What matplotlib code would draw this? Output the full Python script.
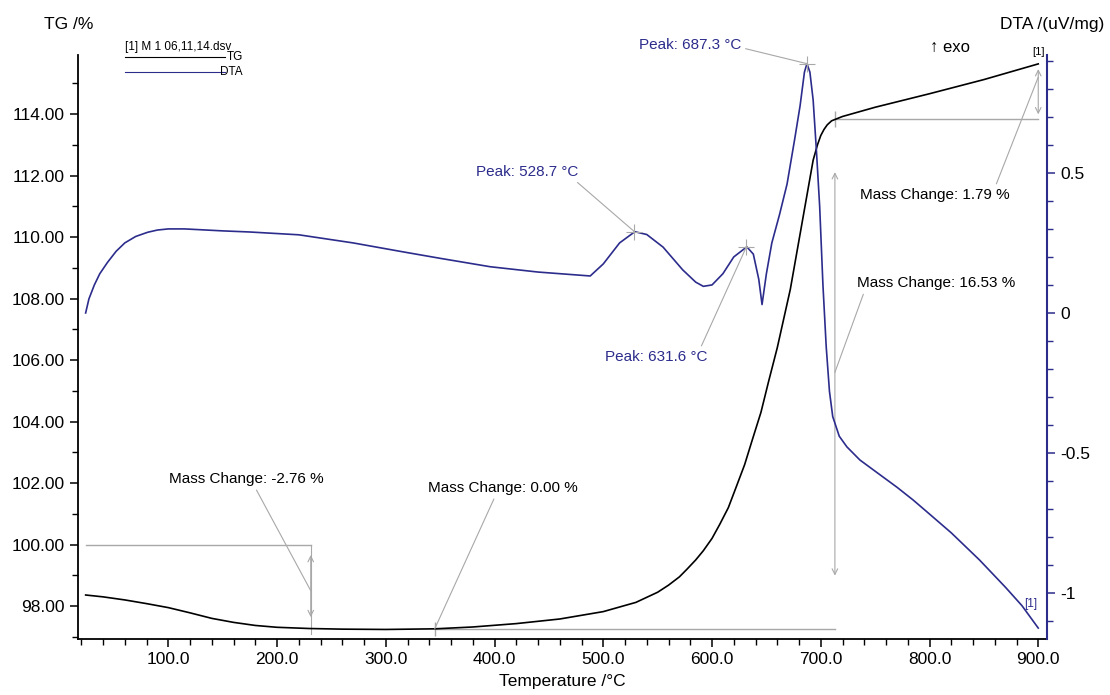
import matplotlib
matplotlib.use("Agg")
import matplotlib.pyplot as plt
from matplotlib.ticker import MultipleLocator, FixedLocator

plt.rcParams["font.family"] = ["Liberation Sans", "DejaVu Sans"]

# TG curve (temperature in degC, mass in %)
tg_temp = [24, 40, 60, 80, 100, 120, 140, 160, 180, 200, 230, 260, 300, 345,
           380, 420, 460, 500, 530, 550, 560, 570, 577, 585, 592, 600, 607,
           615, 622, 630, 637, 645, 652, 660, 666, 672, 677, 682, 686, 690,
           693, 697, 700, 703, 706, 710, 720, 750, 800, 850, 900]
tg_mass = [98.36, 98.30, 98.20, 98.08, 97.95, 97.78, 97.60, 97.47, 97.37, 97.31,
           97.27, 97.25, 97.24, 97.26, 97.32, 97.43, 97.58, 97.82, 98.12, 98.45,
           98.68, 98.95, 99.20, 99.50, 99.80, 100.20, 100.65, 101.20, 101.85,
           102.60, 103.40, 104.30, 105.30, 106.40, 107.35, 108.30, 109.30,
           110.30, 111.10, 111.90, 112.50, 113.00, 113.30, 113.50, 113.65,
           113.78, 113.92, 114.22, 114.66, 115.12, 115.63]

# DTA curve (temperature in degC, signal in uV/mg)
dta_temp = [24, 27, 32, 37, 44, 52, 60, 70, 81, 90, 100, 115, 130, 150, 175,
            220, 270, 316, 350, 396, 440, 488, 500, 515, 529, 540, 555, 573,
            585, 592, 600, 610, 620, 632, 638, 643, 646, 650, 655, 662, 669,
            676, 681, 685, 687.3, 690, 693, 696, 699, 702, 705, 708, 711, 717,
            724, 736, 750, 770, 785, 800, 820, 846, 870, 885, 900]
dta_sig = [0.0, 0.05, 0.10, 0.14, 0.18, 0.22, 0.25, 0.273, 0.288, 0.296, 0.30,
           0.30, 0.297, 0.293, 0.289, 0.279, 0.25, 0.218, 0.195, 0.165, 0.146,
           0.132, 0.175, 0.25, 0.29, 0.28, 0.235, 0.154, 0.11, 0.095, 0.10,
           0.14, 0.20, 0.236, 0.21, 0.12, 0.03, 0.14, 0.25, 0.35, 0.46, 0.62,
           0.74, 0.86, 0.89, 0.86, 0.76, 0.58, 0.38, 0.10, -0.12, -0.28, -0.37,
           -0.44, -0.478, -0.525, -0.565, -0.622, -0.668, -0.718, -0.785,
           -0.882, -0.98, -1.045, -1.125]

# peak evaluations on DTA
peak_temp = [528.7, 631.6, 687.3]
peak_sig = [0.29, 0.236, 0.89]
peak_text = ["Peak: 528.7 °C", "Peak: 631.6 °C", "Peak: 687.3 °C"]

# mass change evaluations on TG
step_temp = [231, 345, 713, 900]
step_text = ["Mass Change: -2.76 %", "Mass Change: 0.00 %",
             "Mass Change: 16.53 %", "Mass Change: 1.79 %"]

x_ticks = [100, 200, 300, 400, 500, 600, 700, 800, 900]
tg_ticks = [98, 100, 102, 104, 106, 108, 110, 112, 114]
dta_ticks = [-1, -0.5, 0, 0.5]
dta_tick_labels = ["-1", "-0.5", "0", "0.5"]

navy = "#2c2c8c"
grey = "#a8a8a8"

fig = plt.figure(figsize=(11.1, 6.95), dpi=100)
ax = fig.add_axes([0.0703, 0.0806, 0.8729, 0.8403])
ax2 = ax.twinx()

ax.plot(tg_temp, tg_mass, color="black", linewidth=1.2, zorder=3)
ax2.plot(dta_temp, dta_sig, color=navy, linewidth=1.2, zorder=3)

ax.set_xlim(17, 908)
ax.set_ylim(96.93, 115.92)
ax2.set_ylim(-1.164, 0.921)

ax.spines["top"].set_visible(False)
ax2.spines["top"].set_visible(False)
ax.spines["right"].set_visible(False)
ax2.spines["left"].set_visible(False)
ax2.spines["bottom"].set_visible(False)
ax2.spines["right"].set_color(navy)
ax2.spines["right"].set_linewidth(1.5)
ax.spines["left"].set_linewidth(1.3)
ax.spines["bottom"].set_linewidth(1.3)

ax.xaxis.set_major_locator(FixedLocator(x_ticks))
ax.xaxis.set_minor_locator(MultipleLocator(20))
ax.set_xticklabels([f"{t:.1f}" for t in x_ticks])
ax.yaxis.set_major_locator(FixedLocator(tg_ticks))
ax.yaxis.set_minor_locator(MultipleLocator(1))
ax.set_yticklabels([f"{t:.2f}" for t in tg_ticks])
ax2.yaxis.set_major_locator(FixedLocator(dta_ticks))
ax2.yaxis.set_minor_locator(MultipleLocator(0.1))
ax2.set_yticklabels(dta_tick_labels)

ax.tick_params(axis="both", which="major", direction="out", length=6,
               width=1.1, labelsize=12.5, colors="black")
ax.tick_params(axis="both", which="minor", direction="out", length=4, width=1)
ax2.tick_params(axis="y", which="major", direction="out", length=6,
                width=1.1, labelsize=12.5, color=navy, labelcolor="black")
ax2.tick_params(axis="y", which="minor", direction="out", length=4, width=1,
                color=navy)

ax.set_xlabel("Temperature /°C", fontsize=12.5, labelpad=5)
fig.text(0.04, 0.965, "TG /%", fontsize=12.5, ha="left", va="center")
fig.text(0.995, 0.965, "DTA /(uV/mg)", fontsize=12.5, ha="right", va="center")
fig.text(0.838, 0.932, "↑ exo", fontsize=12, ha="left", va="center")

# legend block
fig.text(0.1125, 0.932, "[1] M 1 06,11,14.dsv", fontsize=8.5, ha="left", va="center")
fig.add_artist(plt.Line2D([0.1125, 0.203], [0.918, 0.918], color="black", linewidth=0.8))
fig.add_artist(plt.Line2D([0.1125, 0.203], [0.896, 0.896], color=navy, linewidth=0.8))
fig.text(0.219, 0.918, "TG", fontsize=8.5, ha="right", va="center")
fig.text(0.219, 0.896, "DTA", fontsize=8.5, ha="right", va="center")

# "[1]" curve labels
ax.text(900, 115.85, "[1]", fontsize=8, ha="center", va="bottom", color="black")
ax2.text(893, -1.04, "[1]", fontsize=8.5, ha="center", va="center", color=navy)

# peak markers and labels
ax2.plot(peak_temp, peak_sig, linestyle="none", marker="+", markersize=11,
         color=grey, markeredgewidth=0.8, zorder=4)
peak_text_pos = [(430, 0.504), (549, -0.157), (580, 0.957)]
peak_rel = [(0.95, 0.0), (0.92, 1.0), (1.0, 0.3)]
for t, s, lab, pos, rel in zip(peak_temp, peak_sig, peak_text, peak_text_pos, peak_rel):
    ax2.annotate(lab, xy=(t, s), xytext=pos, fontsize=11, color=navy,
                 ha="center", va="center", annotation_clip=False,
                 arrowprops=dict(arrowstyle="-", color=grey, linewidth=0.8,
                                 relpos=rel, shrinkA=1, shrinkB=0))

# mass change construction lines
ax.plot([tg_temp[0], step_temp[0]], [100, 100], color=grey, linewidth=1)
ax.plot([step_temp[0], step_temp[0]], [100, 97.1], color=grey, linewidth=0.8)
ax.annotate("", xy=(step_temp[0], 97.55), xytext=(step_temp[0], 99.75),
            arrowprops=dict(arrowstyle="<->", color=grey, linewidth=0.8))
ax.plot([step_temp[1], step_temp[2]], [97.26, 97.26], color=grey, linewidth=1)
ax.plot([step_temp[1]], [97.26], marker="|", markersize=10, color=grey)
ax.plot([step_temp[2]], [113.84], marker="|", markersize=12, color=grey)
ax.annotate("", xy=(step_temp[2], 98.9), xytext=(step_temp[2], 112.2),
            arrowprops=dict(arrowstyle="<->", color=grey, linewidth=0.8))
ax.plot([step_temp[2], step_temp[3]], [113.84, 113.84], color=grey, linewidth=1)
ax.annotate("", xy=(step_temp[3], 113.9), xytext=(step_temp[3], 115.55),
            arrowprops=dict(arrowstyle="<->", color=grey, linewidth=0.8))

step_text_pos = [(172, 102.13), (408, 101.84), (806, 108.5), (805, 111.37)]
step_target = [(231, 98.5), (345, 97.26), (713, 105.6), (900, 115.2)]
step_rel = [(0.55, 0.0), (0.45, 0.0), (0.05, 0.0), (0.9, 1.0)]
for lab, pos, tgt, rel in zip(step_text, step_text_pos, step_target, step_rel):
    ax.annotate(lab, xy=tgt, xytext=pos, fontsize=11, color="black",
                ha="center", va="center", annotation_clip=False,
                arrowprops=dict(arrowstyle="-", color=grey, linewidth=0.8,
                                relpos=rel, shrinkA=1, shrinkB=0))

fig.savefig("out.png", dpi=100, facecolor="white")
